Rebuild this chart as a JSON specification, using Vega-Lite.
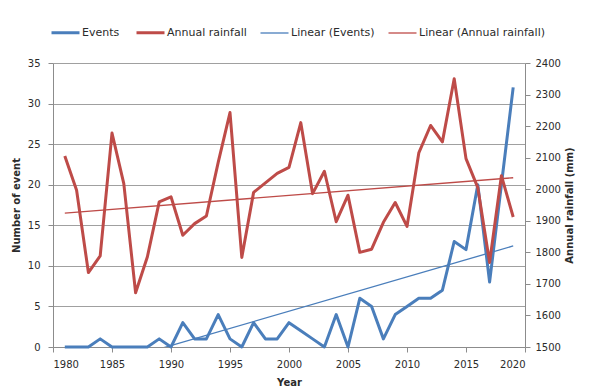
{
  "$schema": "https://vega.github.io/schema/vega-lite/v6.json",
  "width": 472,
  "height": 284,
  "autosize": {"type": "none"},
  "padding": {"left": 53, "top": 63, "right": 65, "bottom": 42},
  "background": "white",
  "data": {
    "values": [
      {"year": 1981, "events": 0, "rainfall": 2105},
      {"year": 1982, "events": 0, "rainfall": 1997},
      {"year": 1983, "events": 0, "rainfall": 1736},
      {"year": 1984, "events": 1, "rainfall": 1789},
      {"year": 1985, "events": 0, "rainfall": 2178},
      {"year": 1986, "events": 0, "rainfall": 2018},
      {"year": 1987, "events": 0, "rainfall": 1672},
      {"year": 1988, "events": 0, "rainfall": 1786},
      {"year": 1989, "events": 1, "rainfall": 1960},
      {"year": 1990, "events": 0, "rainfall": 1976},
      {"year": 1991, "events": 3, "rainfall": 1854},
      {"year": 1992, "events": 1, "rainfall": 1891},
      {"year": 1993, "events": 1, "rainfall": 1915},
      {"year": 1994, "events": 4, "rainfall": 2085},
      {"year": 1995, "events": 1, "rainfall": 2243},
      {"year": 1996, "events": 0, "rainfall": 1784},
      {"year": 1997, "events": 3, "rainfall": 1990},
      {"year": 1998, "events": 1, "rainfall": 2020},
      {"year": 1999, "events": 1, "rainfall": 2050},
      {"year": 2000, "events": 3, "rainfall": 2069},
      {"year": 2001, "events": 2, "rainfall": 2211},
      {"year": 2002, "events": 1, "rainfall": 1986},
      {"year": 2003, "events": 0, "rainfall": 2057},
      {"year": 2004, "events": 4, "rainfall": 1897},
      {"year": 2005, "events": 0, "rainfall": 1981},
      {"year": 2006, "events": 6, "rainfall": 1800},
      {"year": 2007, "events": 5, "rainfall": 1810},
      {"year": 2008, "events": 1, "rainfall": 1895},
      {"year": 2009, "events": 4, "rainfall": 1958},
      {"year": 2010, "events": 5, "rainfall": 1882},
      {"year": 2011, "events": 6, "rainfall": 2115},
      {"year": 2012, "events": 6, "rainfall": 2202},
      {"year": 2013, "events": 7, "rainfall": 2150},
      {"year": 2014, "events": 13, "rainfall": 2350},
      {"year": 2015, "events": 12, "rainfall": 2097},
      {"year": 2016, "events": 20, "rainfall": 2005},
      {"year": 2017, "events": 8, "rainfall": 1768},
      {"year": 2018, "events": 20, "rainfall": 2043},
      {"year": 2019, "events": 32, "rainfall": 1912}
    ]
  },
  "config": {
    "view": {"stroke": null},
    "font": "DejaVu Sans",
    "axis": {
      "labelFont": "DejaVu Sans",
      "labelFontSize": 10,
      "labelColor": "#2b2b2b",
      "titleFont": "DejaVu Sans",
      "titleFontSize": 10,
      "titleFontWeight": "bold",
      "titleColor": "#2b2b2b",
      "domainColor": "#8c8c8c",
      "tickColor": "#8c8c8c",
      "tickSize": 5,
      "gridColor": "#a0a0a0",
      "gridWidth": 1
    },
    "legend": {
      "labelFont": "DejaVu Sans",
      "labelFontSize": 11,
      "labelColor": "#2b2b2b"
    }
  },
  "encoding": {
    "x": {
      "field": "year",
      "type": "quantitative",
      "scale": {"domain": [1980, 2020], "nice": false, "zero": false},
      "axis": {
        "orient": "bottom",
        "title": "Year",
        "values": [1980, 1985, 1990, 1995, 2000, 2005, 2010, 2015, 2020],
        "format": "d",
        "grid": false,
        "labelPadding": 7,
        "titlePadding": 8
      }
    },
    "color": {
      "scale": {
        "domain": ["Events", "Annual rainfall", "Linear (Events)", "Linear (Annual rainfall)"],
        "range": ["#4a7ebb", "#be4b48", "#4a7ebb", "#be4b48"]
      },
      "legend": {
        "title": null,
        "orient": "none",
        "direction": "horizontal",
        "columns": 4,
        "legendX": -3,
        "legendY": -46,
        "symbolType": "stroke",
        "symbolSize": 784,
        "labelOffset": 1,
        "columnPadding": 10
      }
    },
    "strokeWidth": {
      "scale": {
        "type": "ordinal",
        "domain": ["Events", "Annual rainfall", "Linear (Events)", "Linear (Annual rainfall)"],
        "range": [3, 3, 1.3, 1.3]
      }
    }
  },
  "layer": [
    {
      "mark": {"type": "line", "strokeJoin": "round"},
      "encoding": {
        "y": {
          "field": "events",
          "type": "quantitative",
          "scale": {"domain": [0, 35], "nice": false},
          "axis": {
            "orient": "left",
            "title": "Number of event",
            "values": [0, 5, 10, 15, 20, 25, 30, 35],
            "grid": true,
            "labelPadding": 8,
            "titlePadding": 6
          }
        },
        "color": {"datum": "Events"},
        "strokeWidth": {"datum": "Events", "type": "ordinal"}
      }
    },
    {
      "transform": [{"regression": "events", "on": "year"}],
      "mark": {"type": "line", "clip": true},
      "encoding": {
        "y": {
          "field": "events",
          "type": "quantitative",
          "scale": {"domain": [0, 35], "nice": false},
          "axis": null
        },
        "color": {"datum": "Linear (Events)"},
        "strokeWidth": {"datum": "Linear (Events)", "type": "ordinal"}
      }
    },
    {
      "mark": {"type": "line", "strokeJoin": "round"},
      "encoding": {
        "y": {
          "field": "rainfall",
          "type": "quantitative",
          "scale": {"domain": [1500, 2400], "nice": false, "zero": false},
          "axis": {
            "orient": "right",
            "title": "Annual rainfall (mm)",
            "titleAngle": 270,
            "titleBaseline": "top",
            "values": [1500, 1600, 1700, 1800, 1900, 2000, 2100, 2200, 2300, 2400],
            "format": "d",
            "grid": false,
            "labelPadding": 5,
            "titlePadding": 4
          }
        },
        "color": {"datum": "Annual rainfall"},
        "strokeWidth": {"datum": "Annual rainfall", "type": "ordinal"}
      }
    },
    {
      "transform": [{"regression": "rainfall", "on": "year"}],
      "mark": {"type": "line"},
      "encoding": {
        "y": {
          "field": "rainfall",
          "type": "quantitative",
          "scale": {"domain": [1500, 2400], "nice": false, "zero": false},
          "axis": null
        },
        "color": {"datum": "Linear (Annual rainfall)"},
        "strokeWidth": {"datum": "Linear (Annual rainfall)", "type": "ordinal"}
      }
    }
  ],
  "resolve": {"scale": {"y": "independent"}}
}
